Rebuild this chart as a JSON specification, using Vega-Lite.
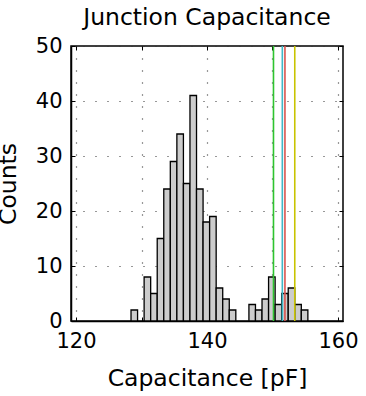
{
  "$schema": "https://vega.github.io/schema/vega-lite/v6.json",
  "width": 272,
  "height": 275,
  "autosize": {"type": "none"},
  "padding": {"left": 71, "top": 46, "right": 23, "bottom": 75},
  "background": "white",
  "title": {"text": "Junction Capacitance", "font": "DejaVu Sans", "fontSize": 23.5, "fontWeight": "normal", "color": "black", "baseline": "alphabetic", "offset": 18, "dy": 31, "anchor": "middle", "frame": "group"},
  "config": {
    "view": {"stroke": "black", "strokeWidth": 1.5},
    "font": "DejaVu Sans"
  },
  "resolve": {"axis": {"x": "independent", "y": "independent"}},
  "datasets": {
    "bins": [
      {"bin_start": 128.4, "bin_end": 129.4, "count": 2},
      {"bin_start": 130.4, "bin_end": 131.4, "count": 8},
      {"bin_start": 131.4, "bin_end": 132.4, "count": 5},
      {"bin_start": 132.4, "bin_end": 133.4, "count": 15},
      {"bin_start": 133.4, "bin_end": 134.4, "count": 24},
      {"bin_start": 134.4, "bin_end": 135.4, "count": 29},
      {"bin_start": 135.4, "bin_end": 136.4, "count": 34},
      {"bin_start": 136.4, "bin_end": 137.4, "count": 25},
      {"bin_start": 137.4, "bin_end": 138.4, "count": 41},
      {"bin_start": 138.4, "bin_end": 139.4, "count": 24},
      {"bin_start": 139.4, "bin_end": 140.4, "count": 18},
      {"bin_start": 140.4, "bin_end": 141.4, "count": 19},
      {"bin_start": 141.4, "bin_end": 142.4, "count": 6},
      {"bin_start": 142.4, "bin_end": 143.4, "count": 4},
      {"bin_start": 143.4, "bin_end": 144.4, "count": 2},
      {"bin_start": 146.4, "bin_end": 147.4, "count": 3},
      {"bin_start": 147.4, "bin_end": 148.4, "count": 2},
      {"bin_start": 148.4, "bin_end": 149.4, "count": 4},
      {"bin_start": 149.4, "bin_end": 150.4, "count": 8},
      {"bin_start": 150.4, "bin_end": 151.4, "count": 3},
      {"bin_start": 151.4, "bin_end": 152.4, "count": 5},
      {"bin_start": 152.4, "bin_end": 153.4, "count": 6},
      {"bin_start": 153.4, "bin_end": 154.4, "count": 3},
      {"bin_start": 154.4, "bin_end": 155.4, "count": 2}
    ],
    "lines": [
      {"name": "green", "value": 150.15},
      {"name": "cyan", "value": 151.5},
      {"name": "red", "value": 151.9},
      {"name": "yellow", "value": 153.4}
    ]
  },
  "layer": [
    {
      "data": {"name": "bins"},
      "mark": {"type": "bar", "fill": "#cccccc", "stroke": "black", "strokeWidth": 1.3, "orient": "vertical"},
      "encoding": {
        "x": {
          "field": "bin_start", "type": "quantitative",
          "scale": {"domain": [120, 160], "nice": false, "zero": false},
          "axis": {
            "orient": "bottom",
            "values": [120, 130, 140, 150, 160],
            "labelExpr": "datum.value % 20 == 0 ? datum.label : ''",
            "title": "Capacitance [pF]",
            "titleFont": "DejaVu Sans", "titleFontSize": 23.5, "titleFontWeight": "normal", "titleColor": "black",
            "titleBaseline": "alphabetic", "titleY": 64, "titleX": 136, "titleAnchor": "middle",
            "labelFont": "DejaVu Sans", "labelFontSize": 21, "labelColor": "black", "labelBaseline": "alphabetic", "labelPadding": 30.5, "labelFlush": false, "labelOverlap": false,
            "tickSize": -4, "tickColor": "black", "tickWidth": 1,
            "domainColor": "black", "domainWidth": 1.5,
            "grid": true, "gridColor": "#333333", "gridDash": [1, 11], "gridWidth": 1.2
          }
        },
        "x2": {"field": "bin_end"},
        "y": {
          "field": "count", "type": "quantitative",
          "scale": {"domain": [0, 50], "nice": false},
          "axis": {
            "orient": "left",
            "values": [0, 10, 20, 30, 40, 50],
            "title": "Counts",
            "titleFont": "DejaVu Sans", "titleFontSize": 23.5, "titleFontWeight": "normal", "titleColor": "black",
            "titleBaseline": "alphabetic", "titleX": -56, "titleY": 137.5, "titleAngle": -90, "titleAlign": "center",
            "labelFont": "DejaVu Sans", "labelFontSize": 21, "labelColor": "black", "labelPadding": 13, "labelBaseline": "middle", "labelFlush": false, "labelOverlap": false,
            "tickSize": -4, "tickColor": "black", "tickWidth": 1,
            "domainColor": "black", "domainWidth": 1.5,
            "grid": true, "gridColor": "#333333", "gridDash": [1, 11], "gridWidth": 1.2
          }
        },
        "y2": {"datum": 0}
      }
    },
    {
      "data": {"name": "lines"},
      "mark": {"type": "rule", "strokeWidth": 1.6},
      "encoding": {
        "x": {
          "field": "value", "type": "quantitative",
          "axis": {"orient": "top", "values": [120, 130, 140, 150, 160], "labels": false, "title": null, "grid": false, "domain": false, "tickSize": -4, "tickColor": "black", "tickWidth": 1}
        },
        "color": {
          "field": "name", "type": "nominal",
          "scale": {"domain": ["green", "cyan", "red", "yellow"], "range": ["#2fc42f", "#3fb8c8", "#d9534f", "#c8c400"]},
          "legend": null
        }
      }
    },
    {
      "data": {"name": "bins"},
      "mark": {"type": "point", "opacity": 0},
      "encoding": {
        "y": {
          "field": "count", "type": "quantitative",
          "axis": {"orient": "right", "values": [0, 10, 20, 30, 40, 50], "labels": false, "title": null, "grid": false, "domain": false, "tickSize": -4, "tickColor": "black", "tickWidth": 1}
        }
      }
    }
  ]
}
